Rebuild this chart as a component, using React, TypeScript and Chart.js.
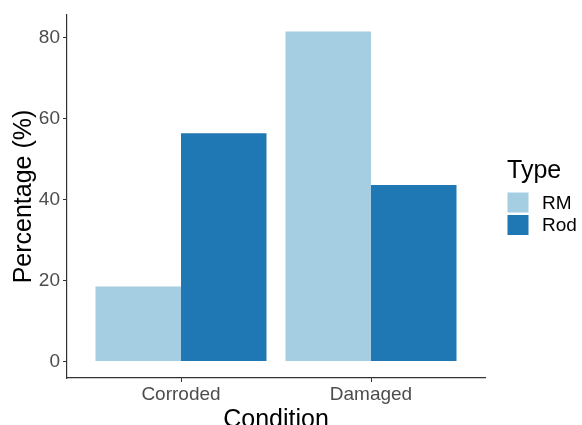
import React, { useEffect, useRef } from "react";
import { Chart, registerables } from "chart.js";

Chart.register(...registerables);

const categories = ["Corroded", "Damaged"];
const seriesNames = ["RM", "Rod"];
const rmValues = [18.5, 81.5];
const rodValues = [56.4, 43.6];
const yTicks = [0, 20, 40, 60, 80];
const colors = ["#a6cee3", "#1f78b4"];

const FONT = "'Liberation Sans', Arial, Helvetica, sans-serif";

const legendPlugin = {
  id: "ggLegend",
  afterDraw(chart: any) {
    const ctx = chart.ctx;
    const area = chart.chartArea;
    const x0 = area.right + 22;
    ctx.save();
    ctx.fillStyle = "#000";
    ctx.font = `25px ${FONT}`;
    ctx.textAlign = "left";
    ctx.textBaseline = "alphabetic";
    ctx.fillText("Type", x0, 178);
    const boxW = 21;
    const boxH = 20;
    const tops = [192.5, 215];
    seriesNames.forEach((name, i) => {
      ctx.fillStyle = colors[i];
      ctx.fillRect(x0 + 0.5, tops[i], boxW, boxH);
      ctx.fillStyle = "#000";
      ctx.font = `19px ${FONT}`;
      ctx.textBaseline = "middle";
      ctx.fillText(name, x0 + 35, tops[i] + boxH / 2 + 1);
    });
    ctx.restore();
  },
};

export default function App() {
  const ref = useRef<HTMLCanvasElement>(null);
  useEffect(() => {
    if (!ref.current) return;
    const rng = Math.max(...rmValues, ...rodValues);
    const pad = rng * 0.05;
    const chart = new Chart(ref.current, {
      type: "bar",
      data: {
        datasets: [
          {
            label: seriesNames[0],
            data: rmValues.map((v, i) => ({ x: i + 1, y: v })),
            backgroundColor: colors[0],
            borderWidth: 0,
          },
          {
            label: seriesNames[1],
            data: rodValues.map((v, i) => ({ x: i + 1, y: v })),
            backgroundColor: colors[1],
            borderWidth: 0,
          },
        ],
      },
      options: {
        responsive: false,
        animation: false,
        devicePixelRatio: 1,
        layout: { padding: { top: 15, right: 97, left: 0, bottom: 0 } },
        datasets: { bar: { categoryPercentage: 0.9, barPercentage: 1.0 } },
        plugins: {
          legend: { display: false },
          tooltip: { enabled: false },
        },
        scales: {
          x: {
            type: "linear",
            min: 0.4,
            max: 2.6,
            offset: false,
            afterBuildTicks: (s: any) => {
              s.ticks = categories.map((_, i) => ({ value: i + 1 }));
            },
            afterFit: (s: any) => {
              s.height = 47;
            },
            ticks: {
              callback: (v: any) => categories[Number(v) - 1] ?? "",
              color: "#4d4d4d",
              font: { family: FONT, size: 19 },
              padding: 1,
              maxRotation: 0,
              autoSkip: false,
            },
            grid: {
              offset: false,
              drawOnChartArea: false,
              drawTicks: true,
              tickLength: 4,
              color: "#333333",
              lineWidth: 1,
            },
            border: { display: true, color: "#333333", width: 1.2 },
            title: {
              display: true,
              text: "Condition",
              color: "#000",
              font: { family: FONT, size: 25 },
              padding: { top: 0, bottom: -10 },
            },
          },
          y: {
            type: "linear",
            min: -pad,
            max: rng + pad,
            afterBuildTicks: (s: any) => {
              s.ticks = yTicks.map((v) => ({ value: v }));
            },
            afterFit: (s: any) => {
              s.width = 67;
            },
            ticks: {
              color: "#4d4d4d",
              font: { family: FONT, size: 19 },
              padding: 3,
            },
            grid: {
              drawOnChartArea: false,
              drawTicks: true,
              tickLength: 4,
              color: "#333333",
              lineWidth: 1,
            },
            border: { display: true, color: "#333333", width: 1.2 },
            title: {
              display: true,
              text: "Percentage (%)",
              color: "#000",
              font: { family: FONT, size: 25 },
              padding: { top: 9, bottom: 0 },
            },
          },
        },
      },
      plugins: [legendPlugin],
    } as any);
    return () => chart.destroy();
  }, []);
  return (
    <div style={{ position: "fixed", left: 0, top: 0, width: 582, height: 425, background: "#fff" }}>
      <canvas ref={ref} width={582} height={425} style={{ width: 582, height: 425, display: "block" }} />
    </div>
  );
}
